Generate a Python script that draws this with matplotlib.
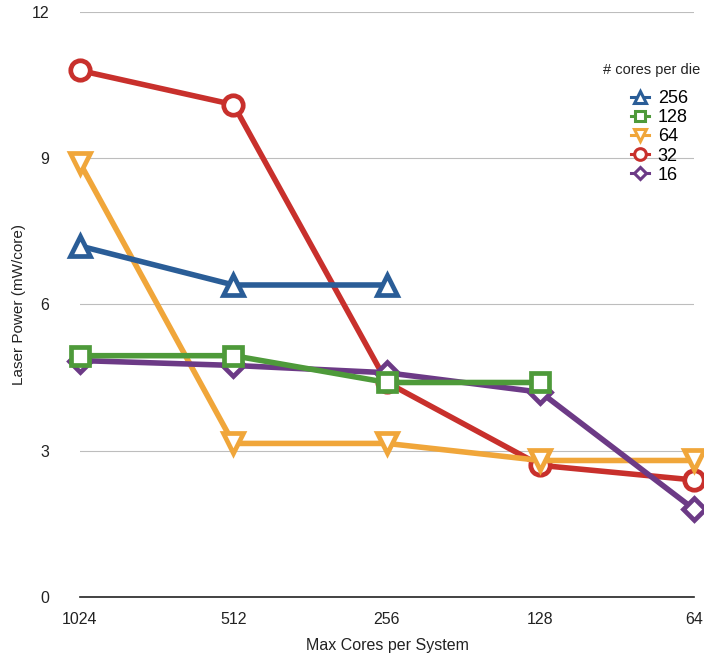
import matplotlib
matplotlib.use("Agg")
import matplotlib.pyplot as plt

plt.rcParams["font.family"] = ["Liberation Sans", "DejaVu Sans"]

systems = ["1024", "512", "256", "128", "64"]  # max cores per system, left to right
# laser power (mW/core) per "# cores per die" series
p256 = [7.2, 6.4, 6.4]
p128 = [4.95, 4.95, 4.4, 4.4]
p64 = [8.9, 3.15, 3.15, 2.8, 2.8]
p32 = [10.8, 10.1, 4.4, 2.7, 2.4]
p16 = [4.85, 4.75, 4.6, 4.2, 1.8]

fig = plt.figure(figsize=(7.04, 6.59), dpi=100)
ax = fig.add_axes([0.1136, 0.0941, 0.8722, 0.8877])

series = [  # label, values, colour, marker, zorder
    ("256", p256, "#2a5d97", "^", 5),
    ("128", p128, "#4e9a3a", "s", 4),
    ("64", p64, "#f0a63a", "v", 2),
    ("32", p32, "#c8302c", "o", 1),
    ("16", p16, "#6c3a86", "D", 3),
]
for lab, vals, col, mk, z in series:
    ms = 14
    if mk == "D":
        ms = 11
    if mk == "s":
        ms = 12.5
    ax.plot(range(len(vals)), vals, color=col, lw=4, marker=mk, ms=ms,
            mfc="white", mec=col, mew=3.4, label=lab, zorder=z, clip_on=False)

ax.set_xlim(0, len(systems) - 1)
ax.set_ylim(0, 12)
ax.set_xticks(range(len(systems)))
ax.set_xticklabels(systems)
ax.set_yticks([0, 3, 6, 9, 12])
ax.tick_params(length=0, labelsize=11.5, colors="#222222")
ax.tick_params(axis="y", pad=22)
ax.tick_params(axis="x", pad=11)
ax.grid(axis="y", color="#bdbdbd", lw=0.8)
ax.set_axisbelow(True)
for s in ["top", "right", "left"]:
    ax.spines[s].set_visible(False)
ax.spines["bottom"].set_linewidth(1.2)
ax.spines["bottom"].set_color("#222222")

ax.set_xlabel("Max Cores per System", fontsize=11.5, color="#222222", labelpad=8)
ax.set_ylabel("Laser Power (mW/core)", fontsize=11, color="#222222", labelpad=4)

# legend title drawn separately so the gap above the entries matches
fig.text(0.995, 1 - 70 / 659, "# cores per die", ha="right", va="center",
         fontsize=10.5, color="#222222")
leg = ax.legend(loc="upper right", bbox_to_anchor=(0.99, 1 - 81 / 659),
                bbox_transform=fig.transFigure, frameon=False,
                fontsize=13, handlelength=1.0, handletextpad=0.5,
                labelspacing=0.12, markerscale=0.6, borderpad=0)
for h in leg.legend_handles:
    h.set_linewidth(2.2)
    h.set_markeredgewidth(2.2)

fig.savefig("out.png", dpi=100)
